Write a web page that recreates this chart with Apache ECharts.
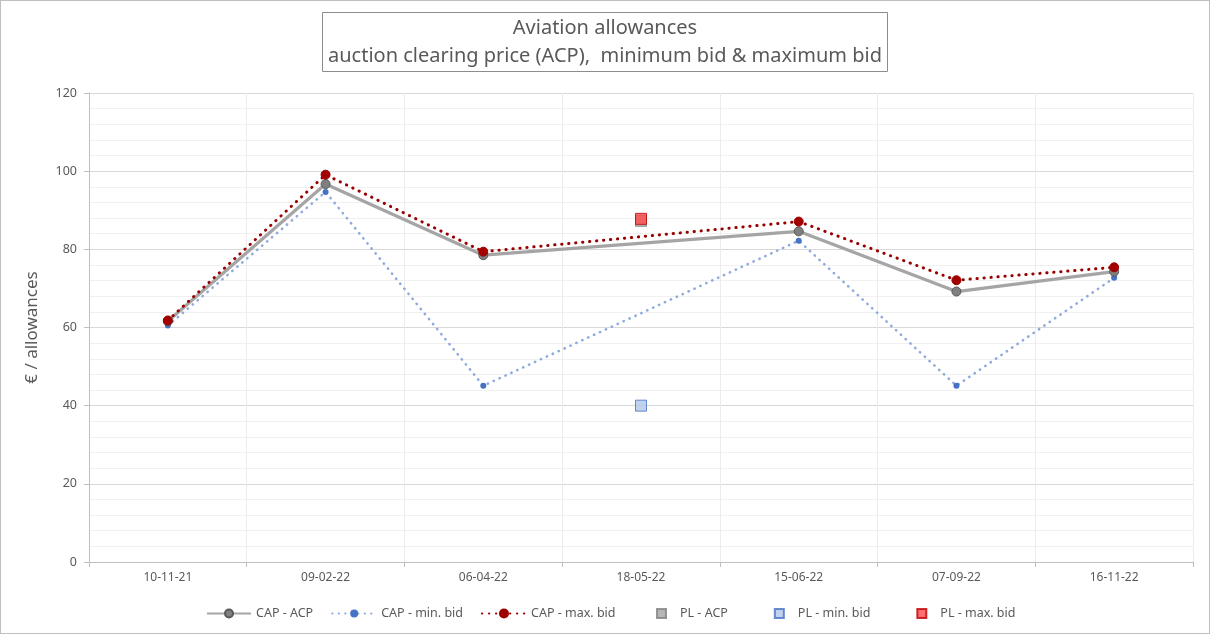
<!DOCTYPE html>
<html>
<head>
<meta charset="utf-8">
<script src="https://cdn.jsdelivr.net/npm/echarts@6/dist/echarts.min.js"></script>
<style>
  html, body { margin: 0; padding: 0; background: #fff; }
  #chart { width: 1208px; height: 632px; border: 1px solid #bfbfbf; }
</style>
</head>
<body>
<div id="chart"></div>
<script>
// auction dates
const dates = ['10-11-21', '09-02-22', '06-04-22', '18-05-22', '15-06-22', '07-09-22', '16-11-22']
// CAP auctions (no auction on 18-05-22)
const capAcp = [61.6, 96.7, 78.5, null, 84.6, 69.2, 74.3]
const capMin = [60.5, 94.7, 45.1, null, 82.2, 45.1, 72.7]
const capMax = [61.8, 99.1, 79.4, null, 87.1, 72.1, 75.4]
// PL auction (only 18-05-22)
const plAcp = [null, null, null, 87.3, null, null, null]
const plMin = [null, null, null, 40.0, null, null, null]
const plMax = [null, null, null, 87.8, null, null, null]

const font = 'Noto Sans'
const txt = '#595959'

let myChart = echarts.init(document.getElementById('chart'))

let option = {
  backgroundColor: '#fff',
  animation: false,
  textStyle: { fontFamily: font },
  title: {
    text: 'Aviation allowances\nauction clearing price (ACP),  minimum bid & maximum bid',
    left: 'center',
    top: 11,
    borderWidth: 1,
    borderColor: '#8c8c8c',
    padding: [2, 6, 2, 6],
    textStyle: {
      fontFamily: font,
      fontSize: 20,
      fontWeight: 'normal',
      color: txt,
      lineHeight: 28
    }
  },
  legend: [
    {
      left: 200,
      top: 601,
      itemWidth: 44,
      itemHeight: 10,
      itemGap: 18,
      textStyle: { fontSize: 12.5, color: txt, fontFamily: font },
      data: ['CAP - ACP', 'CAP - min. bid', 'CAP - max. bid']
    },
    {
      left: 650,
      top: 601,
      itemWidth: 9,
      itemHeight: 9,
      itemGap: 46,
      textStyle: { fontSize: 12.5, color: txt, fontFamily: font, padding: [0, 0, 0, 9] },
      data: ['PL - ACP', 'PL - min. bid', 'PL - max. bid']
    }
  ],
  grid: {
    left: 88,
    right: 16,
    top: 92,
    bottom: 71
  },
  xAxis: {
    type: 'category',
    data: dates,
    boundaryGap: true,
    axisLine: { lineStyle: { color: '#bfbfbf', width: 1 } },
    axisTick: { show: true, length: 5, lineStyle: { color: '#bfbfbf' } },
    axisLabel: { color: txt, fontSize: 12, margin: 10 },
    splitLine: { show: true, lineStyle: { color: '#ececec', width: 1 } }
  },
  yAxis: {
    type: 'value',
    min: 0,
    max: 120,
    interval: 20,
    name: '€ / allowances',
    nameLocation: 'middle',
    nameRotate: 90,
    nameGap: 48,
    nameTextStyle: { fontSize: 17, color: txt, fontFamily: font },
    axisLine: { show: true, lineStyle: { color: '#bfbfbf', width: 1 } },
    axisTick: { show: true, length: 5, lineStyle: { color: '#bfbfbf' } },
    axisLabel: { color: txt, fontSize: 12.5, margin: 12 },
    splitLine: { show: true, lineStyle: { color: '#d9d9d9', width: 1 } },
    minorTick: { show: false, splitNumber: 5 },
    minorSplitLine: { show: true, lineStyle: { color: '#f0f0f0', width: 1 } }
  },
  series: [
    {
      name: 'CAP - ACP',
      type: 'line',
      data: capAcp,
      connectNulls: true,
      symbol: 'circle',
      symbolSize: 9,
      z: 3,
      lineStyle: { color: '#a5a5a5', width: 3.2 },
      itemStyle: { color: '#7f7f7f', borderColor: '#595959', borderWidth: 1 }
    },
    {
      name: 'CAP - min. bid',
      type: 'line',
      data: capMin,
      connectNulls: true,
      symbol: 'circle',
      symbolSize: 6,
      z: 2,
      lineStyle: { color: '#8faadc', width: 2.6, type: [0.3, 6.2], cap: 'round' },
      itemStyle: { color: '#4472c4', borderWidth: 0 }
    },
    {
      name: 'CAP - max. bid',
      type: 'line',
      data: capMax,
      connectNulls: true,
      symbol: 'circle',
      symbolSize: 9,
      z: 4,
      lineStyle: { color: '#990000', width: 3, type: [0.3, 6.7], cap: 'round' },
      itemStyle: { color: '#a50000', borderColor: '#990000', borderWidth: 1 }
    },
    {
      name: 'PL - ACP',
      type: 'scatter',
      data: plAcp,
      symbol: 'rect',
      symbolSize: 11,
      z: 3,
      itemStyle: { color: '#a5a5a5', borderColor: '#7f7f7f', borderWidth: 1 }
    },
    {
      name: 'PL - min. bid',
      type: 'scatter',
      data: plMin,
      symbol: 'rect',
      symbolSize: 11,
      z: 3,
      itemStyle: { color: '#b4c7e7', borderColor: '#4472c4', borderWidth: 1 }
    },
    {
      name: 'PL - max. bid',
      type: 'scatter',
      data: plMax,
      symbol: 'rect',
      symbolSize: 11,
      z: 5,
      itemStyle: { color: '#ff4b4b', borderColor: '#c00000', borderWidth: 1 }
    }
  ]
}
myChart.setOption(option, true)
</script>
</body>
</html>
